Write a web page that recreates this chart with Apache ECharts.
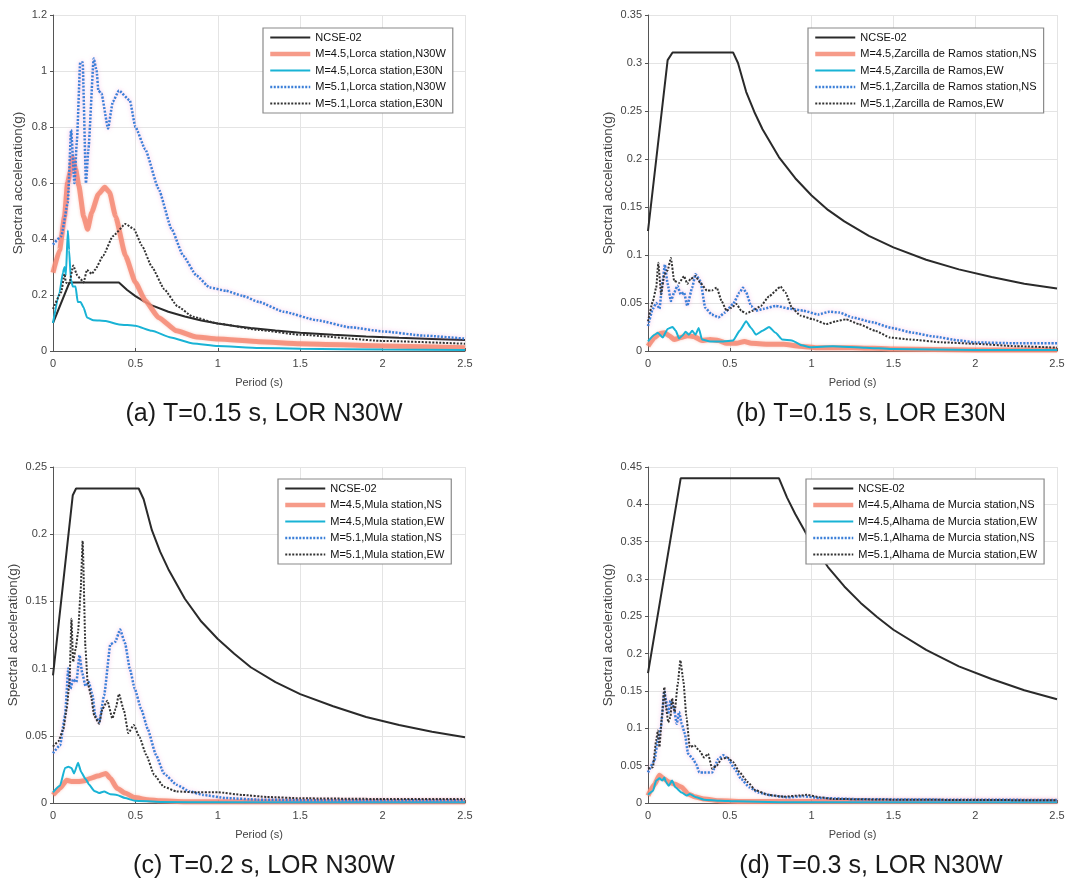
<!DOCTYPE html>
<html><head><meta charset="utf-8">
<script src="https://cdn.jsdelivr.net/npm/echarts@6/dist/echarts.min.js"></script>
<style>html,body{margin:0;padding:0;background:#fff}#c{width:1084px;height:884px}</style>
</head><body><div id="c"></div>
<script>
// ---------- tick labels / captions ----------
const xTicks = [0, 0.5, 1, 1.5, 2, 2.5];
const captions = ['(a) T=0.15 s, LOR N30W', '(b) T=0.15 s, LOR E30N', '(c) T=0.2 s, LOR N30W', '(d) T=0.3 s, LOR N30W'];
const yMax = [1.2, 0.35, 0.25, 0.45];
const yStep = [0.2, 0.05, 0.05, 0.05];
const names_a = ['NCSE-02','M=4.5,Lorca station,N30W','M=4.5,Lorca station,E30N','M=5.1,Lorca station,N30W','M=5.1,Lorca station,E30N'];
const names_b = ['NCSE-02','M=4.5,Zarcilla de Ramos station,NS','M=4.5,Zarcilla de Ramos,EW','M=5.1,Zarcilla de Ramos station,NS','M=5.1,Zarcilla de Ramos,EW'];
const names_c = ['NCSE-02','M=4.5,Mula station,NS','M=4.5,Mula station,EW','M=5.1,Mula station,NS','M=5.1,Mula station,EW'];
const names_d = ['NCSE-02','M=4.5,Alhama de Murcia station,NS','M=4.5,Alhama de Murcia station,EW','M=5.1,Alhama de Murcia station,NS','M=5.1,Alhama de Murcia station,EW'];

// ---------- panel (a) ----------
const a_ncse = [[0,0.1],[0.1,0.245],[0.4,0.245],[0.45,0.218],[0.5,0.196],[0.55,0.178],[0.6,0.163],[0.7,0.14],[0.8,0.123],[0.9,0.109],[1.0,0.098],[1.1,0.089],[1.2,0.082],[1.35,0.073],[1.5,0.065],[1.7,0.058],[1.9,0.052],[2.1,0.047],[2.3,0.043],[2.5,0.039]];
const a_m45_1 = [[0,0.28],[0.04,0.36],[0.07,0.48],[0.088,0.6],[0.105,0.64],[0.118,0.69],[0.137,0.65],[0.157,0.59],[0.186,0.48],[0.21,0.435],[0.235,0.495],[0.275,0.56],[0.314,0.585],[0.343,0.567],[0.38,0.48],[0.44,0.34],[0.5,0.245],[0.56,0.18],[0.64,0.12],[0.75,0.072],[0.87,0.05],[1.0,0.043],[1.25,0.033],[1.5,0.026],[2.0,0.018],[2.5,0.012]];
const a_m45_2 = [[0,0.1],[0.04,0.21],[0.06,0.28],[0.07,0.3],[0.078,0.27],[0.09,0.43],[0.098,0.36],[0.108,0.257],[0.12,0.23],[0.137,0.23],[0.15,0.175],[0.167,0.175],[0.186,0.155],[0.206,0.12],[0.245,0.11],[0.32,0.107],[0.4,0.095],[0.5,0.09],[0.6,0.072],[0.715,0.048],[0.85,0.027],[1.0,0.018],[1.25,0.011],[1.5,0.008],[2.0,0.005],[2.5,0.004]];
const a_m51_1 = [[0,0.38],[0.05,0.41],[0.09,0.53],[0.11,0.79],[0.13,0.6],[0.145,0.75],[0.165,1.03],[0.18,1.03],[0.2,0.6],[0.215,0.72],[0.247,1.045],[0.265,1.0],[0.275,0.93],[0.294,0.92],[0.334,0.795],[0.363,0.89],[0.4,0.93],[0.466,0.895],[0.5,0.8],[0.56,0.72],[0.64,0.58],[0.72,0.435],[0.79,0.34],[0.87,0.27],[0.95,0.227],[1.05,0.215],[1.15,0.197],[1.25,0.175],[1.4,0.14],[1.6,0.11],[1.8,0.085],[2.0,0.07],[2.25,0.055],[2.5,0.044]];
const a_m51_2 = [[0,0.15],[0.05,0.21],[0.07,0.275],[0.078,0.245],[0.098,0.24],[0.123,0.305],[0.147,0.27],[0.167,0.257],[0.186,0.245],[0.206,0.29],[0.235,0.275],[0.255,0.29],[0.304,0.34],[0.363,0.41],[0.44,0.454],[0.49,0.436],[0.54,0.376],[0.6,0.3],[0.676,0.22],[0.755,0.16],[0.85,0.122],[1.0,0.098],[1.25,0.075],[1.5,0.058],[2.0,0.036],[2.5,0.026]];

// ---------- panel (b) ----------
const b_ncse = [[0,0.125],[0.12,0.303],[0.15,0.311],[0.52,0.311],[0.55,0.3],[0.6,0.27],[0.65,0.249],[0.7,0.231],[0.8,0.202],[0.9,0.18],[1.0,0.162],[1.1,0.147],[1.2,0.135],[1.35,0.12],[1.5,0.108],[1.7,0.095],[1.9,0.085],[2.1,0.077],[2.3,0.07],[2.5,0.065]];
const b_m45_1 = [[0,0.005],[0.04,0.014],[0.07,0.018],[0.1,0.019],[0.13,0.016],[0.16,0.012],[0.2,0.014],[0.24,0.016],[0.28,0.015],[0.33,0.011],[0.38,0.012],[0.43,0.011],[0.48,0.008],[0.54,0.008],[0.59,0.01],[0.63,0.008],[0.73,0.007],[0.83,0.007],[0.93,0.005],[1.03,0.0035],[1.25,0.0035],[1.5,0.002],[2.0,0.001],[2.5,0.001]];
const b_m45_2 = [[0,0.01],[0.04,0.017],[0.06,0.019],[0.09,0.014],[0.12,0.023],[0.15,0.025],[0.17,0.021],[0.19,0.013],[0.21,0.016],[0.23,0.02],[0.25,0.017],[0.27,0.021],[0.29,0.017],[0.31,0.024],[0.33,0.012],[0.38,0.01],[0.46,0.01],[0.52,0.011],[0.56,0.021],[0.6,0.031],[0.63,0.024],[0.66,0.017],[0.7,0.021],[0.74,0.025],[0.78,0.019],[0.82,0.012],[0.88,0.011],[0.94,0.006],[0.99,0.004],[1.13,0.005],[1.33,0.0035],[1.49,0.002],[2.0,0.001],[2.5,0.001]];
const b_m51_1 = [[0,0.026],[0.03,0.044],[0.05,0.05],[0.07,0.044],[0.09,0.073],[0.103,0.09],[0.12,0.07],[0.14,0.052],[0.16,0.061],[0.18,0.068],[0.2,0.059],[0.22,0.061],[0.24,0.047],[0.27,0.066],[0.29,0.08],[0.32,0.073],[0.35,0.045],[0.39,0.038],[0.43,0.035],[0.47,0.04],[0.52,0.049],[0.56,0.061],[0.58,0.066],[0.6,0.061],[0.63,0.047],[0.66,0.042],[0.71,0.044],[0.78,0.047],[0.87,0.044],[0.95,0.042],[1.04,0.038],[1.11,0.041],[1.17,0.04],[1.25,0.035],[1.37,0.03],[1.49,0.024],[1.62,0.019],[1.75,0.015],[1.9,0.011],[2.0,0.009],[2.25,0.008],[2.5,0.008]];
const b_m51_2 = [[0,0.031],[0.03,0.052],[0.05,0.066],[0.063,0.092],[0.08,0.059],[0.1,0.08],[0.12,0.084],[0.14,0.097],[0.16,0.073],[0.19,0.071],[0.22,0.078],[0.24,0.07],[0.26,0.075],[0.29,0.078],[0.32,0.071],[0.36,0.063],[0.39,0.063],[0.42,0.066],[0.45,0.052],[0.48,0.042],[0.51,0.045],[0.54,0.049],[0.57,0.042],[0.6,0.039],[0.64,0.042],[0.69,0.047],[0.74,0.057],[0.81,0.067],[0.84,0.061],[0.88,0.045],[0.93,0.037],[1.01,0.033],[1.09,0.028],[1.15,0.031],[1.21,0.033],[1.29,0.028],[1.39,0.021],[1.48,0.014],[1.6,0.012],[1.8,0.009],[2.0,0.0075],[2.25,0.005],[2.5,0.0035]];

// ---------- panel (c) ----------
const c_ncse = [[0,0.095],[0.12,0.229],[0.14,0.234],[0.52,0.234],[0.55,0.226],[0.6,0.203],[0.65,0.187],[0.7,0.174],[0.8,0.152],[0.9,0.135],[1.0,0.122],[1.1,0.111],[1.2,0.101],[1.35,0.09],[1.5,0.081],[1.7,0.072],[1.9,0.064],[2.1,0.058],[2.3,0.053],[2.5,0.049]];
const c_m45_1 = [[0,0.006],[0.043,0.011],[0.083,0.017],[0.112,0.016],[0.152,0.016],[0.19,0.0165],[0.23,0.0185],[0.27,0.02],[0.32,0.022],[0.348,0.0185],[0.388,0.011],[0.437,0.0074],[0.496,0.004],[0.575,0.0025],[0.65,0.0017],[0.8,0.001],[1.2,0.001],[2.5,0.001]];
const c_m45_2 = [[0,0.008],[0.043,0.013],[0.073,0.026],[0.093,0.027],[0.112,0.026],[0.128,0.022],[0.152,0.03],[0.171,0.023],[0.197,0.018],[0.22,0.0135],[0.25,0.009],[0.28,0.0074],[0.31,0.0086],[0.348,0.0066],[0.388,0.006],[0.437,0.0037],[0.496,0.0017],[0.65,0.0008],[1.0,0.0005],[2.5,0.0005]];
const c_m51_1 = [[0,0.037],[0.043,0.043],[0.073,0.065],[0.093,0.1],[0.106,0.085],[0.122,0.092],[0.142,0.09],[0.161,0.11],[0.177,0.097],[0.197,0.087],[0.217,0.09],[0.24,0.08],[0.256,0.065],[0.28,0.06],[0.31,0.08],[0.348,0.118],[0.378,0.12],[0.407,0.129],[0.437,0.119],[0.466,0.1],[0.496,0.085],[0.535,0.07],[0.575,0.055],[0.624,0.036],[0.673,0.022],[0.75,0.0135],[0.83,0.0086],[0.91,0.006],[1.05,0.0037],[1.24,0.0025],[1.6,0.002],[2.5,0.002]];
const c_m51_2 = [[0,0.042],[0.033,0.046],[0.063,0.055],[0.083,0.07],[0.1,0.09],[0.112,0.137],[0.122,0.105],[0.138,0.115],[0.152,0.127],[0.167,0.156],[0.18,0.195],[0.197,0.115],[0.21,0.09],[0.23,0.08],[0.25,0.065],[0.28,0.059],[0.3,0.07],[0.33,0.076],[0.36,0.063],[0.38,0.07],[0.4,0.081],[0.43,0.069],[0.457,0.052],[0.49,0.058],[0.525,0.049],[0.565,0.036],[0.614,0.021],[0.673,0.012],[0.75,0.0086],[0.85,0.008],[1.0,0.008],[1.15,0.006],[1.3,0.0045],[1.5,0.0035],[2.0,0.003],[2.5,0.003]];

// ---------- panel (d) ----------
const d_ncse = [[0,0.174],[0.2,0.435],[0.8,0.435],[0.85,0.409],[0.9,0.387],[1.0,0.348],[1.1,0.316],[1.2,0.29],[1.3,0.268],[1.4,0.249],[1.5,0.232],[1.7,0.205],[1.9,0.183],[2.1,0.166],[2.3,0.151],[2.5,0.139]];
const d_m45_1 = [[0,0.01],[0.04,0.025],[0.07,0.037],[0.1,0.032],[0.127,0.028],[0.167,0.025],[0.206,0.021],[0.245,0.012],[0.284,0.0085],[0.343,0.0054],[0.44,0.003],[0.6,0.002],[1.0,0.002],[2.5,0.002]];
const d_m45_2 = [[0,0.011],[0.03,0.016],[0.05,0.03],[0.07,0.033],[0.088,0.03],[0.1,0.034],[0.11,0.028],[0.127,0.023],[0.147,0.03],[0.167,0.021],[0.206,0.014],[0.235,0.01],[0.255,0.012],[0.294,0.0076],[0.343,0.0045],[0.44,0.003],[0.54,0.0022],[0.8,0.001],[2.5,0.001]];
const d_m51_1 = [[0,0.041],[0.04,0.057],[0.06,0.084],[0.078,0.1],[0.1,0.15],[0.11,0.137],[0.124,0.119],[0.137,0.137],[0.157,0.128],[0.176,0.106],[0.19,0.122],[0.206,0.106],[0.225,0.093],[0.245,0.066],[0.275,0.059],[0.294,0.052],[0.314,0.041],[0.343,0.041],[0.392,0.041],[0.43,0.059],[0.46,0.064],[0.49,0.059],[0.53,0.046],[0.57,0.032],[0.62,0.021],[0.676,0.014],[0.755,0.01],[0.85,0.0076],[0.95,0.009],[1.05,0.0067],[1.3,0.005],[1.8,0.0045],[2.5,0.004]];
const d_m51_2 = [[0,0.046],[0.03,0.048],[0.05,0.084],[0.06,0.097],[0.07,0.075],[0.085,0.115],[0.1,0.155],[0.11,0.128],[0.124,0.108],[0.137,0.115],[0.147,0.14],[0.163,0.122],[0.182,0.16],[0.198,0.191],[0.216,0.164],[0.235,0.115],[0.255,0.075],[0.284,0.077],[0.314,0.07],[0.343,0.061],[0.367,0.066],[0.392,0.046],[0.42,0.05],[0.45,0.059],[0.484,0.061],[0.52,0.055],[0.56,0.041],[0.61,0.028],[0.657,0.017],[0.735,0.011],[0.83,0.0085],[0.93,0.01],[0.97,0.011],[1.05,0.0076],[1.13,0.0054],[1.5,0.0045],[2.0,0.004],[2.5,0.0036]];

// ---------- layout ----------
const grids = [
  {left: 53, top: 15, width: 412, height: 336},
  {left: 648, top: 15, width: 409, height: 336},
  {left: 53, top: 467, width: 412, height: 336},
  {left: 648, top: 467, width: 409, height: 336}
];
const legendPos = [
  {left: 263, top: 28},
  {left: 808, top: 28},
  {left: 278, top: 479},
  {left: 806, top: 479}
];
const yNameGap = [28, 33, 33, 33];
const capPos = [[259, 397], [866, 397], [259, 849], [866, 849]];

const SANS = "'Liberation Sans', Arial, sans-serif";
const styles = [
  {color: '#2a2a2a', lineStyle: {color: '#2a2a2a', width: 2}},
  {color: '#f58a74', lineStyle: {color: '#f58a74', width: 5, opacity: 0.85, shadowColor: 'rgba(245,138,116,0.5)', shadowBlur: 3}},
  {color: '#19b3d5', lineStyle: {color: '#19b3d5', width: 2}},
  {color: '#3b7fd8', lineStyle: {color: '#3b7fd8', width: 2.5, type: [2, 1.5], shadowColor: 'rgba(235,120,200,0.55)', shadowBlur: 4}},
  {color: '#333333', lineStyle: {color: '#333333', width: 2, type: [2, 1.5]}}
];
const legendLineWidth = [2, 4.5, 2, 2.5, 2];
const panels = [
  [names_a, [a_ncse, a_m45_1, a_m45_2, a_m51_1, a_m51_2]],
  [names_b, [b_ncse, b_m45_1, b_m45_2, b_m51_1, b_m51_2]],
  [names_c, [c_ncse, c_m45_1, c_m45_2, c_m51_1, c_m51_2]],
  [names_d, [d_ncse, d_m45_1, d_m45_2, d_m51_1, d_m51_2]]
];

const fmt = v => String(+v.toFixed(2));
const option = {
  backgroundColor: '#fff',
  animation: false,
  title: captions.map((t, i) => ({
    text: t, left: capPos[i][0], top: capPos[i][1], textAlign: 'center',
    textStyle: {fontFamily: SANS, fontSize: 25, fontWeight: 'normal', color: '#1a1a1a'}
  })),
  grid: grids.map(g => Object.assign({}, g, {containLabel: false})),
  legend: panels.map((p, i) => ({
    data: p[0].map((n, k) => ({name: n, lineStyle: {width: legendLineWidth[k]}})),
    orient: 'vertical', left: legendPos[i].left, top: legendPos[i].top,
    backgroundColor: '#fff', borderColor: '#8a8a8a', borderWidth: 1.2, borderRadius: 0,
    padding: [4, 7, 4, 5], itemGap: 5.5, itemWidth: 40, itemHeight: 11,
    selectedMode: false,
    itemStyle: {opacity: 0},
    textStyle: {fontFamily: SANS, fontSize: 11, color: '#111'}
  })),
  xAxis: grids.map((g, i) => ({
    type: 'value', gridIndex: i, min: 0, max: 2.5, interval: 0.5,
    name: 'Period (s)', nameLocation: 'middle', nameGap: 26,
    nameTextStyle: {fontFamily: SANS, fontSize: 11, color: '#444'},
    axisLine: {onZero: false, lineStyle: {color: '#555', width: 1}},
    axisTick: {show: true, inside: true, length: 3, lineStyle: {color: '#555'}},
    axisLabel: {fontFamily: SANS, fontSize: 11, color: '#444', margin: 7, formatter: fmt},
    splitLine: {show: true, lineStyle: {color: '#e4e4e4', width: 1}}
  })),
  yAxis: grids.map((g, i) => ({
    type: 'value', gridIndex: i, min: 0, max: yMax[i], interval: yStep[i],
    name: 'Spectral acceleration(g)', nameLocation: 'middle', nameGap: yNameGap[i],
    nameTextStyle: {fontFamily: SANS, fontSize: 13.5, color: '#444'},
    axisLine: {show: true, lineStyle: {color: '#555', width: 1}},
    axisTick: {show: true, inside: false, length: 3, lineStyle: {color: '#555'}},
    axisLabel: {fontFamily: SANS, fontSize: 11, color: '#444', margin: 6, formatter: fmt},
    splitLine: {show: true, lineStyle: {color: '#e4e4e4', width: 1}}
  })),
  series: []
};
panels.forEach((p, i) => {
  p[1].forEach((d, k) => {
    option.series.push(Object.assign({
      type: 'line', name: p[0][k], xAxisIndex: i, yAxisIndex: i, data: d,
      symbol: 'none', smooth: k === 0 ? false : 0.15, smoothMonotone: 'x', clip: true, z: 2 + k
    }, JSON.parse(JSON.stringify(styles[k]))));
  });
});
const chart = echarts.init(document.getElementById('c'), null, {renderer: 'canvas'});
chart.setOption(option);
</script>
</body></html>
